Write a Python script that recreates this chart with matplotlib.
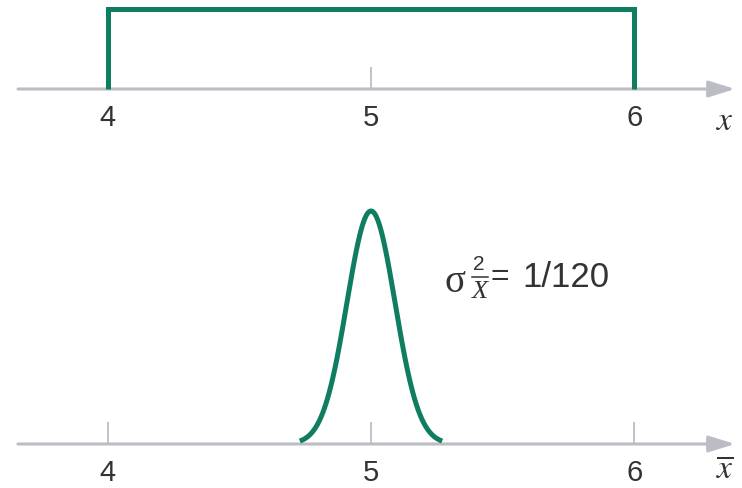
import numpy as np
import matplotlib
matplotlib.use('Agg')
import matplotlib.pyplot as plt
from matplotlib.lines import Line2D

# dados
ticks = [4, 5, 6]
unif_lo, unif_hi = 4, 6
unif_height = 1 / (unif_hi - unif_lo)
mu = 5
var_xbar = 1 / 120
curve_halfwidth = 0.27
var_label = '1/120'

green = '#0f7d62'
gray = '#bcbcc4'
txt = '#333333'

plt.rcParams['font.family'] = ['Liberation Sans', 'DejaVu Sans']
plt.rcParams['mathtext.fontset'] = 'stix'

W, H = 742, 489
fig = plt.figure(figsize=(W / 100, H / 100), dpi=100)


def px(x, y):
    return x / W, 1 - y / H


xlim = (5 - 371 / 263.5, 5 + 371 / 263.5)

# painel de cima: uniforme
ax1 = fig.add_axes([0, 1 - 130 / H, 1, 130 / H])
ax1.plot([unif_lo, unif_lo, unif_hi, unif_hi], [0, unif_height, unif_height, 0],
         color=green, lw=3.6, solid_joinstyle='miter', solid_capstyle='butt', zorder=3)
ax1.set_ylim(-40 / 160, unif_height + 10 / 160)

# painel de baixo: normal
sd = np.sqrt(var_xbar)
xs = np.linspace(mu - curve_halfwidth, mu + curve_halfwidth, 300)
pdf = np.exp(-0.5 * ((xs - mu) / sd) ** 2) / (sd * np.sqrt(2 * np.pi))
peak = pdf.max()
ax2 = fig.add_axes([0, 0, 1, 309 / H])
ax2.plot(xs, pdf, color=green, lw=3.6, solid_capstyle='butt', zorder=3)
ppu = 233 / peak
ax2.set_ylim(-44 / ppu, peak + 32 / ppu)

for ax in (ax1, ax2):
    ax.set_xlim(xlim)
    ax.patch.set_visible(False)
    for s in ax.spines.values():
        s.set_visible(False)
    ax.spines['bottom'].set_position(('data', 0))
    ax.set_yticks([])
    ax.set_xticks(ticks)
    ax.set_xticklabels([str(t) for t in ticks])
    ax.tick_params(axis='x', direction='in', length=16, width=1.3, color=gray,
                   labelsize=21, labelcolor=txt, pad=10)
    ax.annotate('', xy=(735 / W, 0), xytext=(18 / W, 0),
                xycoords=('axes fraction', 'data'), textcoords=('axes fraction', 'data'),
                arrowprops=dict(arrowstyle='-|>,head_length=0.8,head_width=0.25',
                                color=gray, lw=2.2, shrinkA=0, shrinkB=0, mutation_scale=20),
                zorder=1)

# rótulos dos eixos
fig.text(*px(725, 121), '$x$', fontsize=24, color=txt, ha='center', va='center')
fig.text(*px(725, 470), r'$\overline{x}$', fontsize=24, color=txt, ha='center', va='center')

# anotação da variância
fig.text(*px(455, 282), 'σ', fontsize=28, family='Liberation Serif', color=txt,
         ha='center', va='center')
fig.text(*px(479, 264), '2', fontsize=15, color=txt, ha='center', va='center')
fig.add_artist(Line2D([472 / W, 488 / W], [1 - 278 / H, 1 - 278 / H], color=txt, lw=1.1))
fig.text(*px(480, 292), 'X', fontsize=19, family='Liberation Serif', style='italic',
         color=txt, ha='center', va='center')
fig.text(*px(500, 277), '=', fontsize=23, color=txt, ha='center', va='center')
fig.text(*px(522, 278), var_label, fontsize=25, color=txt, ha='left', va='center')

fig.savefig('out.png', dpi=100)
